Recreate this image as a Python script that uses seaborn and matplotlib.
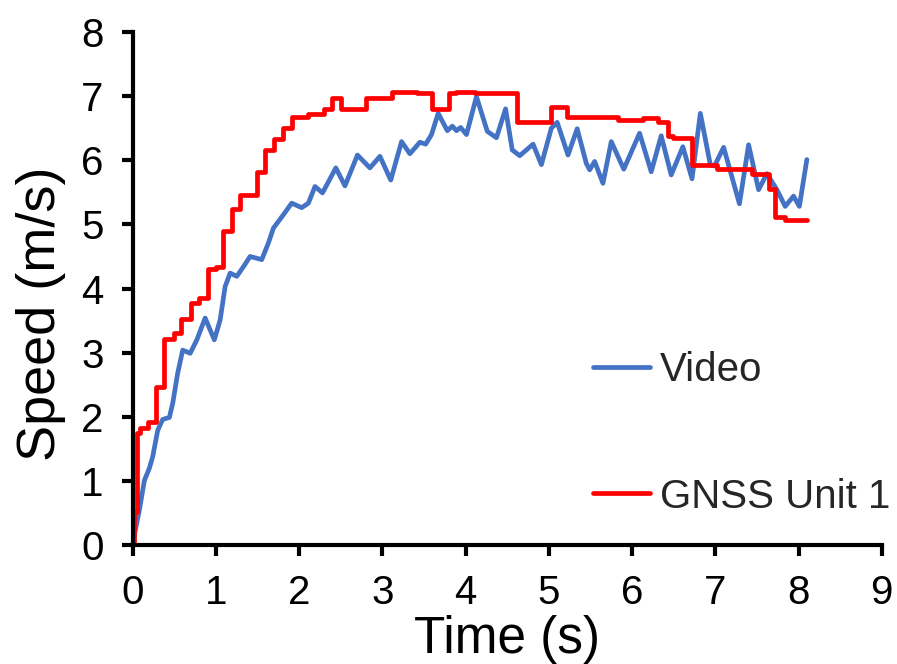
import matplotlib
matplotlib.use("Agg")
import matplotlib.pyplot as plt
import seaborn as sns
import pandas as pd

# Video speed trace (s, m/s)
video_t = [0.00, 0.04, 0.08, 0.14, 0.20, 0.24, 0.30, 0.36, 0.44, 0.48, 0.54, 0.60,
           0.69, 0.77, 0.87, 0.98, 1.05, 1.11, 1.17, 1.25, 1.33, 1.41, 1.55, 1.63,
           1.69, 1.81, 1.91, 2.03, 2.11, 2.19, 2.28, 2.44, 2.55, 2.70, 2.85, 2.97,
           3.10, 3.23, 3.33, 3.45, 3.52, 3.59, 3.67, 3.78, 3.84, 3.89, 3.94, 4.01,
           4.13, 4.26, 4.37, 4.48, 4.56, 4.65, 4.81, 4.91, 5.03, 5.10, 5.23, 5.34,
           5.45, 5.49, 5.55, 5.65, 5.75, 5.90, 6.09, 6.23, 6.35, 6.47, 6.61, 6.72,
           6.82, 6.94, 6.99, 7.10, 7.29, 7.40, 7.52, 7.62, 7.74, 7.84, 7.94, 8.01,
           8.10]
video_v = [0.05, 0.29, 0.55, 1.01, 1.20, 1.38, 1.79, 1.96, 1.99, 2.21, 2.68, 3.04,
           2.99, 3.20, 3.54, 3.20, 3.51, 4.03, 4.24, 4.19, 4.34, 4.50, 4.45, 4.71,
           4.94, 5.15, 5.33, 5.26, 5.33, 5.59, 5.49, 5.88, 5.60, 6.08, 5.88, 6.06,
           5.69, 6.29, 6.10, 6.28, 6.25, 6.40, 6.73, 6.46, 6.53, 6.46, 6.51, 6.40,
           6.99, 6.45, 6.35, 6.80, 6.16, 6.07, 6.25, 5.93, 6.50, 6.59, 6.08, 6.49,
           5.95, 5.85, 5.98, 5.64, 6.29, 5.86, 6.42, 5.82, 6.38, 5.77, 6.21, 5.71,
           6.73, 5.93, 5.91, 6.20, 5.32, 6.24, 5.54, 5.79, 5.54, 5.28, 5.44, 5.28,
           6.01]

# GNSS Unit 1 step values (step starts)
gnss_t = [0.00, 0.01, 0.05, 0.09, 0.18, 0.28, 0.37, 0.49, 0.58, 0.70, 0.79, 0.90,
          1.00, 1.09, 1.19, 1.29, 1.49, 1.59, 1.70, 1.80, 1.91, 2.11, 2.30, 2.39,
          2.50, 2.80, 3.11, 3.41, 3.60, 3.80, 3.89, 4.11, 4.62, 5.02, 5.22, 5.83,
          6.13, 6.31, 6.43, 6.49, 6.72, 7.02, 7.44, 7.64, 7.72, 7.84, 8.10]
gnss_v = [0.00, 0.52, 1.75, 1.82, 1.92, 2.47, 3.21, 3.30, 3.52, 3.78, 3.85, 4.31,
          4.33, 4.90, 5.24, 5.45, 5.82, 6.16, 6.33, 6.50, 6.68, 6.72, 6.80, 6.97,
          6.80, 6.97, 7.07, 7.05, 6.80, 7.05, 7.07, 7.05, 6.60, 6.83, 6.67, 6.63,
          6.66, 6.59, 6.38, 6.34, 5.93, 5.86, 5.79, 5.55, 5.11, 5.07, 5.07]

video = pd.DataFrame({"t": video_t, "v": video_v})
gnss = pd.DataFrame({"t": gnss_t, "v": gnss_v})

sns.set_style("ticks")
plt.rcParams['font.family'] = ['Liberation Sans', 'DejaVu Sans']

fig = plt.figure(figsize=(8.97, 6.64), dpi=100)
ax = fig.add_axes([0.148, 0.179, 0.835, 0.773])

sns.lineplot(data=video, x="t", y="v", ax=ax, color="#4472C4", linewidth=3.4,
             sort=False, estimator=None, label="Video",
             solid_joinstyle="round", solid_capstyle="round")
sns.lineplot(data=gnss, x="t", y="v", ax=ax, color="#FF0000", linewidth=3.4,
             sort=False, estimator=None, drawstyle="steps-post", label="GNSS Unit 1")

ax.set_xlim(0, 9)
ax.set_ylim(0, 8)
ax.set_xticks(range(0, 10))
ax.set_yticks(range(0, 9))
ax.set_xlabel("Time (s)", fontsize=37, labelpad=2, color="black")
ax.set_ylabel("Speed (m/s)", fontsize=39, color="black")
ax.yaxis.set_label_coords(-0.089, 0.45)
ax.tick_params(labelsize=29, width=3, length=8, color="black", labelcolor="black", pad=13)
sns.despine(ax=ax)
for s in ["left", "bottom"]:
    ax.spines[s].set_linewidth(3)
    ax.spines[s].set_color("black")

ax.legend(loc="center left", bbox_to_anchor=(0.615, 0.218), frameon=False,
          fontsize=29, labelspacing=2.2, handlelength=1.4, handletextpad=0.25,
          borderpad=0, borderaxespad=0)

fig.savefig("out.png", dpi=100)
